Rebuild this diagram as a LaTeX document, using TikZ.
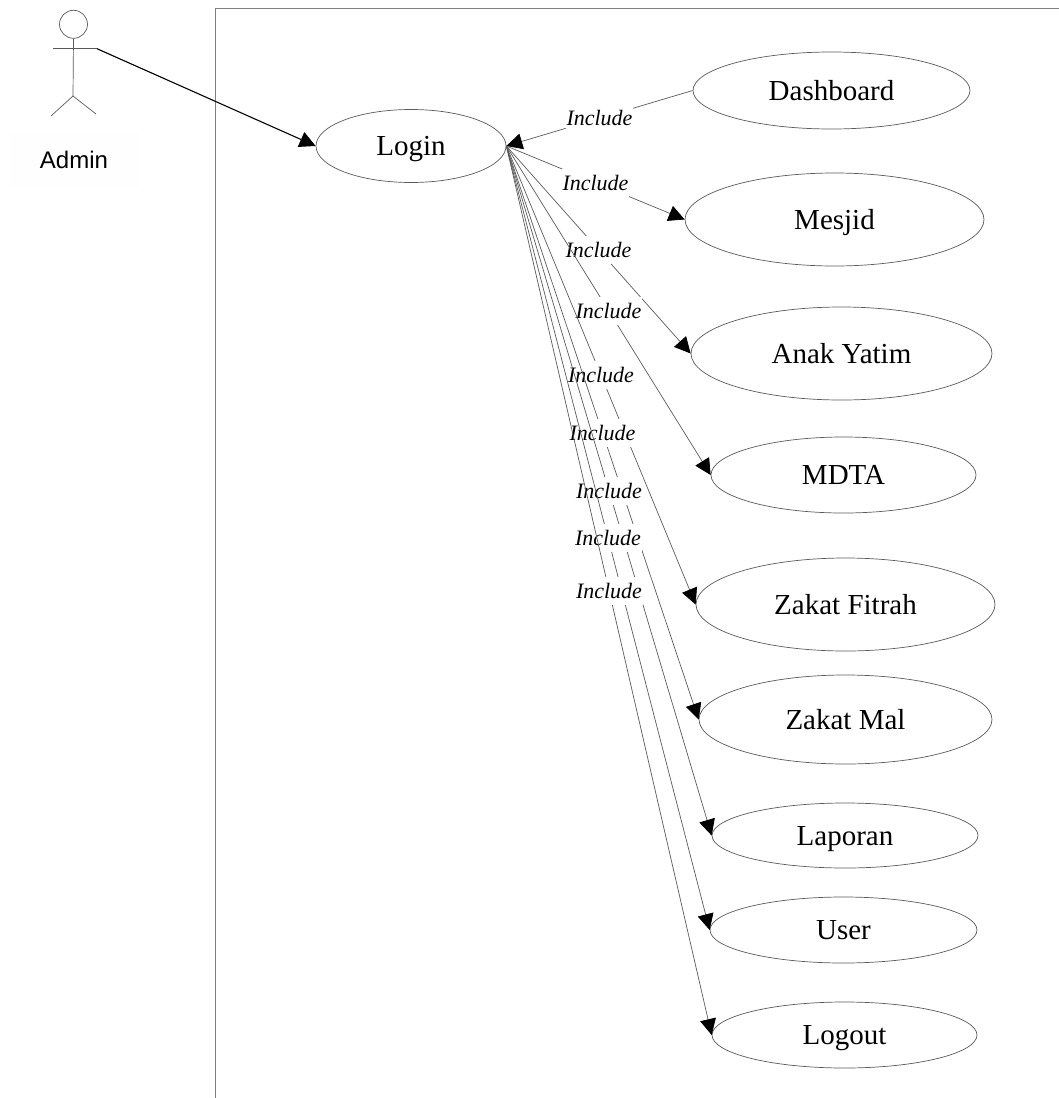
\documentclass[tikz,border=0pt]{standalone}
\usepackage{fontspec}
\setmainfont{Liberation Serif}
\newfontfamily\arialfont{Liberation Sans}
\usetikzlibrary{shapes.geometric,arrows.meta}
\definecolor{linegray}{HTML}{5A5A5A}
\tikzset{
  usecase/.style={ellipse,draw=linegray,line width=0.7pt,fill=white,inner sep=0pt,text height=19pt,text depth=0pt,font=\fontsize{29}{32}\selectfont},
  edgeline/.style={draw=linegray,line width=0.7pt,-{Triangle[length=16pt,width=16pt,color=black]}},
  inc/.style={fill=white,inner sep=0pt,minimum width=67pt,minimum height=28pt,text height=15pt,text depth=0pt,font=\itshape\fontsize{22}{24}\selectfont,text=black},
  stick/.style={draw=linegray,line width=0.7pt},
}
\newcommand{\uc}[6]{\node[usecase,minimum width=#4pt,minimum height=#5pt] (#1) at (#2,#3) {#6};}
\begin{document}
\begin{tikzpicture}[x=1pt,y=-1pt]
\useasboundingbox (0,0) rectangle (1059,1098);
\coordinate (frameBL) at (215,1098);
\coordinate (frameTL) at (215,8);
\coordinate (frameTR) at (1059,8);
\draw[draw=gray,line width=1pt] (frameBL) -- (frameTL) -- (frameTR);

% actor
\node[font=\arialfont\fontsize{24}{26}\selectfont,fill=black!0.4,minimum width=128pt,minimum height=54pt,inner sep=0pt] (admin) at (74,160) {Admin};
\node[circle,stick,minimum size=28pt,inner sep=0pt] (head) at (73.5,24.3) {};
\coordinate (hip) at (73,96);
\coordinate (armL) at (53,48.7);
\coordinate (armR) at (97,48.7);
\coordinate (legL) at (51,116);
\coordinate (legR) at (96,114);
\draw[stick] (head.south) -- (hip);
\draw[stick] (armL) -- (armR);
\draw[stick] (legL) -- (hip) -- (legR);

% use cases
\uc{login}{411}{146}{190}{73}{Login}
\uc{dash}{831.5}{90.5}{277}{77}{Dashboard}
\uc{mesjid}{834.5}{219.5}{299}{93}{Mesjid}
\uc{anak}{841.5}{353.5}{301}{93}{Anak Yatim}
\uc{mdta}{843.5}{475}{265}{76}{MDTA}
\uc{fitrah}{845.5}{604.5}{299}{93}{Zakat Fitrah}
\uc{mal}{845.5}{719.5}{293}{89}{Zakat Mal}
\uc{laporan}{845}{835.5}{266}{65}{Laporan}
\uc{user}{843.5}{930}{267}{66}{User}
\uc{logout}{844.5}{1035}{265}{66}{Logout}

% association
\draw[draw=black,line width=1.1pt,-{Triangle[length=16pt,width=16pt]}] (armR) -- (login.west);

% include edges, each painted after the one before
\draw[edgeline] (dash.west) -- node[inc] {Include} (login.east);
\draw[edgeline] (login.east) -- node[inc] {Include} (mesjid.west);
\draw[edgeline] (login.east) -- node[inc] {Include} (anak.west);
\draw[edgeline] (login.east) -- node[inc] {Include} (mdta.west);
\draw[edgeline] (login.east) -- node[inc] {Include} (fitrah.west);
\draw[edgeline] (login.east) -- node[inc] {Include} (mal.west);
\draw[edgeline] (login.east) -- node[inc] {Include} (laporan.west);
\draw[edgeline] (login.east) -- node[inc] {Include} (user.west);
\draw[edgeline] (login.east) -- node[inc] {Include} (logout.west);
\end{tikzpicture}
\end{document}
